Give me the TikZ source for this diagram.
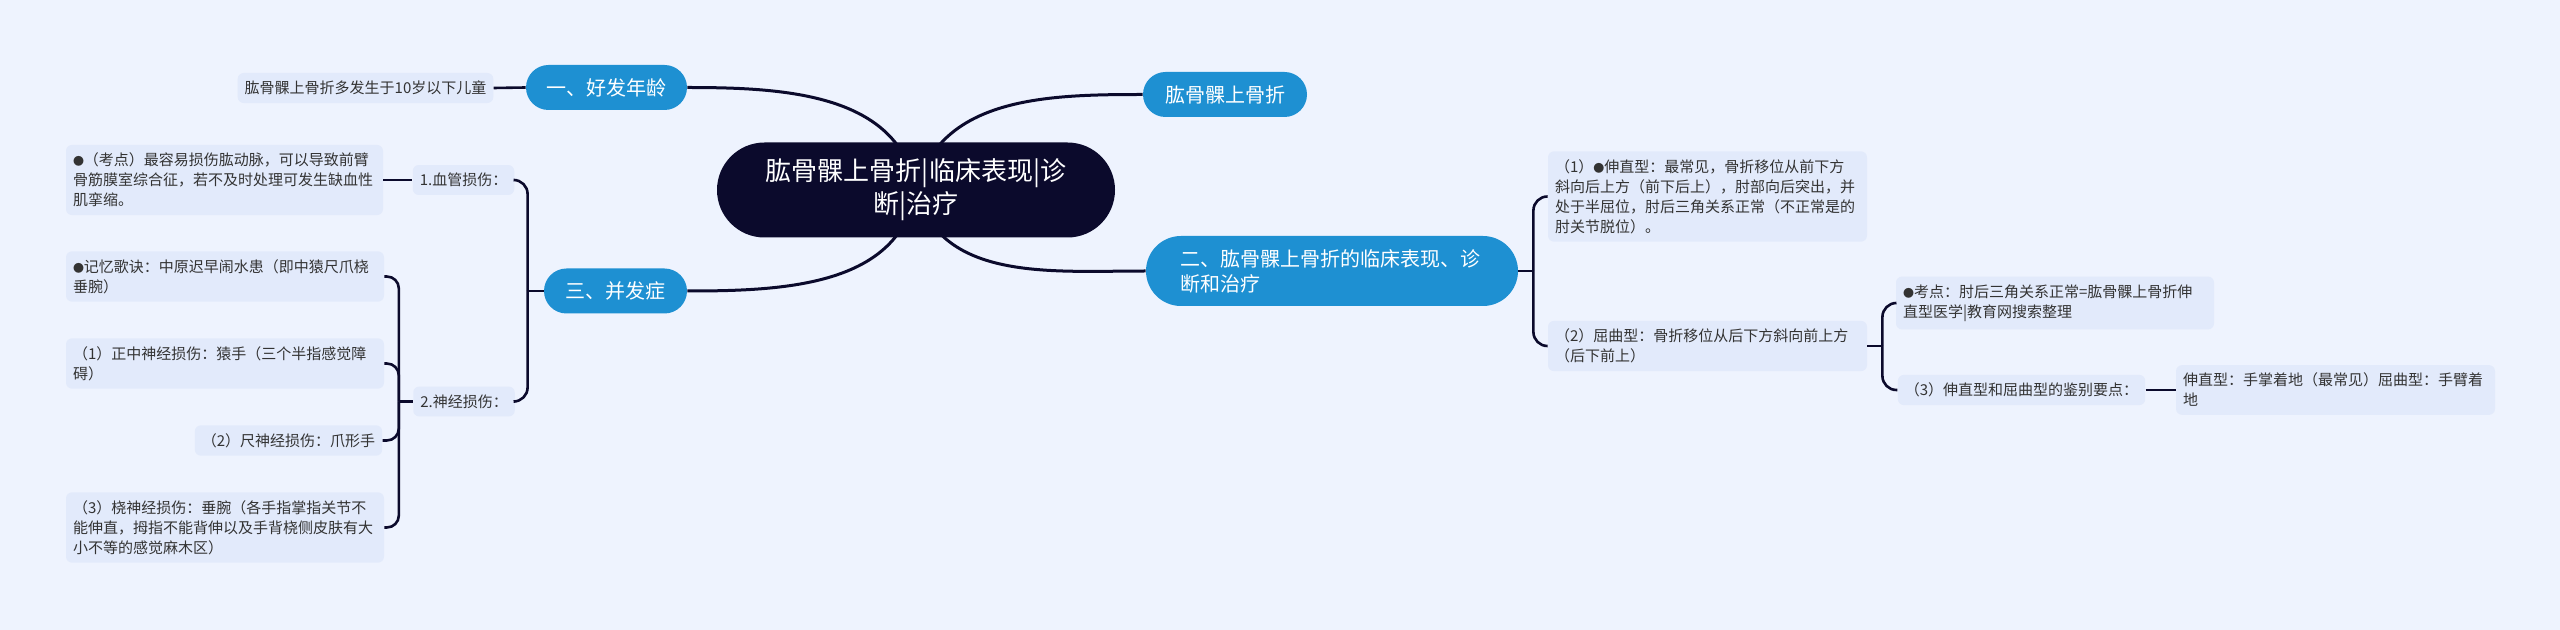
\documentclass[tikz,border=0pt]{standalone}
\usepackage{fontspec}
\setmainfont{Noto Sans CJK SC}
\usetikzlibrary{shapes.misc,positioning,backgrounds}
\definecolor{bgcol}{HTML}{EEF3FE}
\definecolor{leafcol}{HTML}{E2EAFB}
\definecolor{topiccol}{HTML}{1E90D2}
\definecolor{rootcol}{HTML}{0B0A2C}
\definecolor{linecol}{HTML}{0B0A2C}
\definecolor{leaftext}{HTML}{333333}
\newcommand{\dotmark}{{\fontsize{5.5}{10}\selectfont ●}}

\begin{document}
\begin{tikzpicture}[x=0.5pt, y=0.5pt,
            root/.style = {rounded rectangle, fill=rootcol, text=white, font=\fontsize{13}{16.5}\selectfont, align=center, text width=152pt, minimum width=199pt, minimum height=47.5pt, inner sep=0pt},
            topic/.style = {rounded rectangle, fill=topiccol, text=white, font=\fontsize{10}{12.5}\selectfont, minimum height=22.5pt, inner sep=0pt},
            leaf/.style = {rectangle, rounded corners=3pt, fill=leafcol, text=leaftext, font=\fontsize{7.5}{10}\selectfont, align=left, inner xsep=3.5pt, inner ysep=4pt},
            link/.style = {draw=linecol, line width=1.3pt},
            branch/.style = {draw=linecol, line width=1.5pt}
        ]
        \useasboundingbox (0,0) rectangle (2560,-630);
        \node[root] (root) at (916,-190) {肱骨髁上骨折|临床表现|诊\\断|治疗};
        \node[topic, minimum width=82pt] (t0) at (1225,-94.5) {肱骨髁上骨折};
        \node[topic, minimum width=80.5pt] (t1) at (606.5,-87.5) {一、好发年龄};
        \node[topic, text width=152pt, align=left, minimum width=186pt, minimum height=35pt] (t2) at (1332,-271) {二、肱骨髁上骨折的临床表现、诊\\断和治疗};
        \node[topic, minimum width=71.5pt] (t3) at (615.5,-291) {三、并发症};

        \node[leaf] (a1) at (365.5,-88) {肱骨髁上骨折多发生于10岁以下儿童};

        \node[leaf] (b0) at (463.5,-180) {1.血管损伤：};
        \node[leaf, text width=151.5pt] (b1) at (224.5,-180) {\dotmark（考点）最容易损伤肱动脉，可以导致前臂\\骨筋膜室综合征，若不及时处理可发生缺血性\\肌挛缩。};

        \node[leaf] (c0) at (464,-401.5) {2.神经损伤：};
        \node[leaf, text width=152pt] (c1) at (225,-276.5) {\dotmark 记忆歌诀：中原迟早闹水患（即中猿尺爪桡\\垂腕）};
        \node[leaf, text width=152pt] (c2) at (225,-363.5) {（1）正中神经损伤：猿手（三个半指感觉障\\碍）};
        \node[leaf] (c3) at (288.5,-440.5) {（2）尺神经损伤：爪形手};
        \node[leaf, text width=152pt] (c4) at (225,-527.5) {（3）桡神经损伤：垂腕（各手指掌指关节不\\能伸直，拇指不能背伸以及手背桡侧皮肤有大\\小不等的感觉麻木区）};

        \node[leaf, text width=152.5pt] (d1) at (1707.5,-196.5) {（1）\dotmark 伸直型：最常见，骨折移位从前下方\\斜向后上方（前下后上），肘部向后突出，并\\处于半屈位，肘后三角关系正常（不正常是的\\肘关节脱位）。};
        \node[leaf, text width=152.5pt] (d2) at (1707.5,-346) {（2）屈曲型：骨折移位从后下方斜向前上方\\（后下前上）};

        \node[leaf, text width=152pt] (e1) at (2055,-303) {\dotmark 考点：肘后三角关系正常=肱骨髁上骨折伸\\直型医学|教育网搜索整理};
        \node[leaf] (e2) at (2021.5,-390) {（3）伸直型和屈曲型的鉴别要点：};
        \node[leaf, text width=152.5pt] (f1) at (2335.5,-390) {伸直型：手掌着地（最常见）屈曲型：手臂着\\地};

        \begin{pgfonlayer}{background}
            \fill[bgcol] (0,0) rectangle (2560,-630);
            \draw[branch] (root.center) to[out=100,in=0] (t1.east);
            \draw[branch] (root.center) to[out=75,in=180] (t0.west);
            \draw[branch] (root.center) to[out=260,in=0] (t3.east);
            \draw[branch] (root.center) to[out=-75,in=180] (t2.west);
        \end{pgfonlayer}

        \coordinate[left=8pt of t3.west] (j3);
        \coordinate[left=7pt of c0.west] (j2);
        \coordinate[right=7.5pt of t2.east] (jd);
        \coordinate[right=7.5pt of d2.east] (je);

        \draw[link] (a1.east) -- (t1.west);
        \draw[link] (b1.east) -- (b0.west);
        \draw[link] (e2.east) -- (f1.west);

        \draw[link] (t3.west) -- (j3);
        \foreach \n in {b0,c0}
            \draw[link, rounded corners=7pt] (j3) |- (\n.east);
        \draw[link] (c0.west) -- (j2);
        \foreach \n in {c1,c2,c3,c4}
            \draw[link, rounded corners=6pt] (j2) |- (\n.east);
        \draw[link] (t2.east) -- (jd);
        \foreach \n in {d1,d2}
            \draw[link, rounded corners=7pt] (jd) |- (\n.west);
        \draw[link] (d2.east) -- (je);
        \foreach \n in {e1,e2}
            \draw[link, rounded corners=7pt] (je) |- (\n.west);
    \end{tikzpicture}
\end{document}
